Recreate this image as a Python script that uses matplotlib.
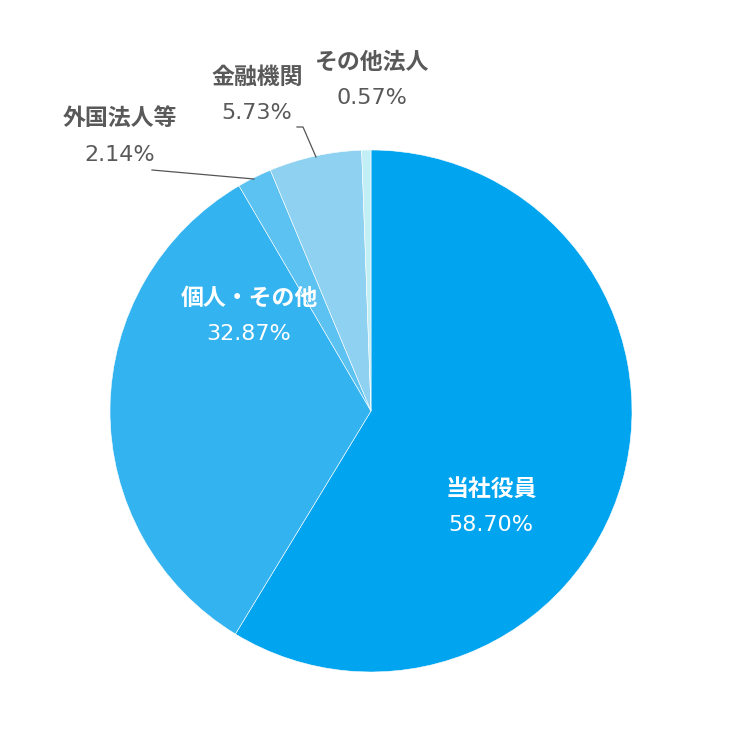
import matplotlib
matplotlib.use("Agg")
import matplotlib.pyplot as plt

plt.rcParams['font.family'] = ['Noto Sans CJK JP', 'DejaVu Sans']

# shareholder composition
labels = ['当社役員', '個人・その他', '外国法人等', '金融機関', 'その他法人']
shares = [58.70, 32.87, 2.14, 5.73, 0.57]
colors = ['#00a4ef', '#33b3ef', '#5cc2f1', '#8ed1f1', '#c2eef5']

W, H = 749, 751
fig = plt.figure(figsize=(W / 100, H / 100), dpi=100)
ax = fig.add_axes([0, 0, 1, 1])
ax.set_aspect('equal')
ax.axis('off')

cx, cy, r = 371, H - 411, 261
ax.pie(shares, colors=colors, startangle=90, counterclock=False,
       center=(cx, cy), radius=r,
       wedgeprops=dict(edgecolor='#ffffff', linewidth=0.4))
ax.set_xlim(0, W)
ax.set_ylim(0, H)

# label positions in pixels (x, y from top) and text colour
label_pos = [(491, 489, 'white'), (249, 298, 'white'), (120, 119, '#595959'),
             (257, 77, '#595959'), (372, 62, '#595959')]
for name, val, (x, y, c) in zip(labels, shares, label_pos):
    ax.text(x, H - y, name, ha='center', va='center', fontsize=16.5,
            fontweight='bold', color=c)
    ax.text(x, H - y - 36, f'{val:.2f}%', ha='center', va='center',
            fontsize=16, color=c, family=['DejaVu Sans'])

# leader lines
ax.plot([152, 254], [H - 170, H - 179], color='#555555', lw=0.9)
ax.plot([297, 303, 316], [H - 127, H - 127, H - 157], color='#555555', lw=0.9)

fig.savefig('out.png', dpi=100)
